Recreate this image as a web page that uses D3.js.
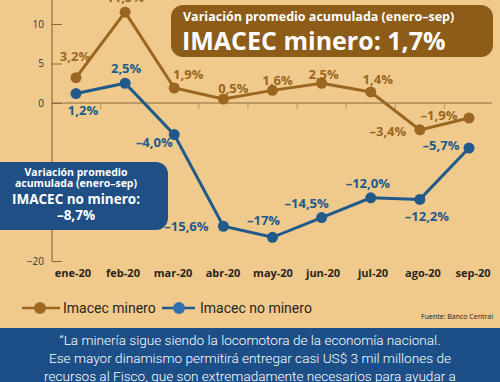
<!DOCTYPE html>
<html>
<head>
<meta charset="utf-8">
<script src="https://cdn.jsdelivr.net/npm/d3@7"></script>
<style>
  html, body { margin: 0; padding: 0; background: #efca8c; }
  svg { display: block; font-family: 'Open Sans', sans-serif; }
</style>
</head>
<body>
<div id="chart"></div>
<script>
const months = ['ene-20', 'feb-20', 'mar-20', 'abr-20', 'may-20', 'jun-20', 'jul-20', 'ago-20', 'sep-20']
const minero = [3.2, 11.5, 1.9, 0.5, 1.6, 2.5, 1.4, -3.4, -1.9]
const noMinero = [1.2, 2.5, -4.0, -15.6, -17, -14.5, -12.0, -12.2, -5.7]
const mineroLabels = ['3,2%', '11,5%', '1,9%', '0,5%', '1,6%', '2,5%', '1,4%', '–3,4%', '–1,9%']
const noMineroLabels = ['1,2%', '2,5%', '–4,0%', '–15,6%', '–17%', '–14,5%', '–12,0%', '–12,2%', '–5,7%']
const yTicks = [10, 5, 0, -20]

// label offsets from each point (layout only)
const mineroOff = [[-1, -21], [0, -15], [14, -14], [10, -11], [5, -10], [2, -9], [7, -12], [-32, 2], [-30, -3]]
const noMineroOff = [[7, 17], [1, -15], [-20, 8], [-37, 0], [-9, -17], [-15, -14], [-3, -14], [7, 17], [-28, -3]]

const brown = '#9a6620'
const blue = '#215a8a'
const width = 500
const height = 382

const svg = d3.select('#chart')
  .append('svg')
  .attr('width', width)
  .attr('height', height)

svg.append('rect')
  .attr('width', width)
  .attr('height', height)
  .attr('fill', '#efca8c')

const xPositionScale = d3.scalePoint().domain(months).range([76, 469])
const xLabelScale = d3.scalePoint().domain(months).range([73, 473])
const yPositionScale = d3.scaleLinear().domain([-20, 10]).range([261, 24])

// y axis
const yAxis = d3.axisLeft(yPositionScale)
  .tickValues(yTicks)
  .tickSize(-10)
  .tickSizeOuter(0)
  .tickPadding(9)
const yG = svg.append('g')
  .attr('class', 'axis y-axis')
  .attr('transform', 'translate(52,0)')
  .call(yAxis)
  .attr('font-family', null)
yG.select('.domain').remove()
yG.selectAll('line').attr('stroke', '#8a6a3c')
yG.selectAll('text').attr('fill', '#333').attr('font-size', 10).attr('x', -8)
yG.append('line')
  .attr('x1', 0).attr('x2', 0)
  .attr('y1', 0).attr('y2', yPositionScale(-20))
  .attr('stroke', '#7a5a30')

// zero line
svg.append('line')
  .attr('x1', 52).attr('x2', 492)
  .attr('y1', yPositionScale(0)).attr('y2', yPositionScale(0))
  .attr('stroke', '#8a6a3c')
  .attr('stroke-width', 1)

// small ticks between months on the zero line
const step = xPositionScale.step()
svg.selectAll('.xtick')
  .data(months.slice(0, -1))
  .enter()
  .append('line')
  .attr('class', 'xtick')
  .attr('x1', d => xPositionScale(d) + step / 2)
  .attr('x2', d => xPositionScale(d) + step / 2)
  .attr('y1', yPositionScale(0))
  .attr('y2', yPositionScale(0) + 6)
  .attr('stroke', '#b89660')

// x labels
svg.selectAll('.xlabel')
  .data(months)
  .enter()
  .append('text')
  .attr('class', 'xlabel')
  .attr('x', d => xLabelScale(d))
  .attr('y', 277)
  .attr('text-anchor', 'middle')
  .attr('font-size', 11)
  .attr('font-weight', 'bold')
  .attr('fill', '#2a2520')
  .text(d => d)

const line = d3.line()
  .x((d, i) => xPositionScale(months[i]))
  .y(d => yPositionScale(d))

function drawSeries(values, labels, offsets, color) {
  svg.append('path')
    .datum(values)
    .attr('fill', 'none')
    .attr('stroke', color)
    .attr('stroke-width', 3)
    .attr('d', line)

  svg.append('g')
    .selectAll('circle')
    .data(values)
    .enter()
    .append('circle')
    .attr('cx', (d, i) => xPositionScale(months[i]))
    .attr('cy', d => yPositionScale(d))
    .attr('r', 5.5)
    .attr('fill', color)

  svg.append('g')
    .selectAll('text')
    .data(values)
    .enter()
    .append('text')
    .attr('x', (d, i) => xPositionScale(months[i]) + offsets[i][0])
    .attr('y', (d, i) => yPositionScale(d) + offsets[i][1])
    .attr('dy', '0.35em')
    .attr('text-anchor', 'middle')
    .attr('font-size', 13)
    .attr('font-weight', 'bold')
    .attr('fill', color)
    .text((d, i) => labels[i])
}

drawSeries(minero, mineroLabels, mineroOff, brown)
drawSeries(noMinero, noMineroLabels, noMineroOff, blue)

// top right box
svg.append('rect')
  .attr('x', 171).attr('y', 5)
  .attr('width', 322).attr('height', 52)
  .attr('rx', 12)
  .attr('fill', '#8c5c18')
svg.append('text')
  .attr('x', 183).attr('y', 21)
  .attr('font-size', 12.5)
  .attr('font-weight', 'bold')
  .attr('fill', '#fff')
  .text('Variación promedio acumulada (enero–sep)')
svg.append('text')
  .attr('x', 182).attr('y', 50)
  .attr('font-size', 25)
  .attr('font-weight', 'bold')
  .attr('fill', '#fff')
  .text('IMACEC minero: 1,7%')

// left box
svg.append('rect')
  .attr('x', -15).attr('y', 162)
  .attr('width', 183).attr('height', 68)
  .attr('rx', 12)
  .attr('fill', '#1f4f84')
const boxLines = [
  ['Variación promedio', 10.5, 176],
  ['acumulada (enero–sep)', 10.5, 187],
  ['IMACEC no minero:', 13.5, 204],
  ['–8,7%', 13.5, 220]
]
svg.selectAll('.boxline')
  .data(boxLines)
  .enter()
  .append('text')
  .attr('class', 'boxline')
  .attr('x', 76)
  .attr('y', d => d[2])
  .attr('text-anchor', 'middle')
  .attr('font-size', d => d[1])
  .attr('font-weight', 'bold')
  .attr('fill', '#fff')
  .text(d => d[0])

// legend
const legend = [
  ['Imacec minero', brown, '#a06a1e', 22, 60, 40, 63],
  ['Imacec no minero', blue, '#3270b2', 162, 195, 179, 200]
]
legend.forEach(function(l) {
  svg.append('line')
    .attr('x1', l[3]).attr('x2', l[4])
    .attr('y1', 308).attr('y2', 308)
    .attr('stroke', l[1]).attr('stroke-width', 2.5)
  svg.append('circle')
    .attr('cx', l[5]).attr('cy', 308).attr('r', 6)
    .attr('fill', l[2])
  svg.append('text')
    .attr('x', l[6]).attr('y', 313)
    .style('font-family', 'Roboto, sans-serif')
    .attr('font-size', 14)
    .attr('fill', '#2a2520')
    .text(l[0])
})

svg.append('text')
  .attr('x', 493).attr('y', 319)
  .attr('text-anchor', 'end')
  .attr('font-size', 7)
  .attr('fill', '#222')
  .text('Fuente: Banco Central')

// bottom quote band
svg.append('rect')
  .attr('x', 0).attr('y', 328)
  .attr('width', width).attr('height', height - 328)
  .attr('fill', '#1c4f88')
const quote = [
  '“La minería sigue siendo la locomotora de la economía nacional.',
  'Ese mayor dinamismo permitirá entregar casi US$ 3 mil millones de',
  'recursos al Fisco, que son extremadamente necesarios para ayudar a'
]
svg.selectAll('.quote')
  .data(quote)
  .enter()
  .append('text')
  .attr('class', 'quote')
  .attr('x', 250)
  .attr('y', (d, i) => 345 + i * 18)
  .attr('text-anchor', 'middle')
  .style('font-family', 'Roboto, sans-serif')
  .attr('font-size', 13.6)
  .attr('font-weight', 300)
  .attr('fill', '#fff')
  .text(d => d)
</script>
</body>
</html>
